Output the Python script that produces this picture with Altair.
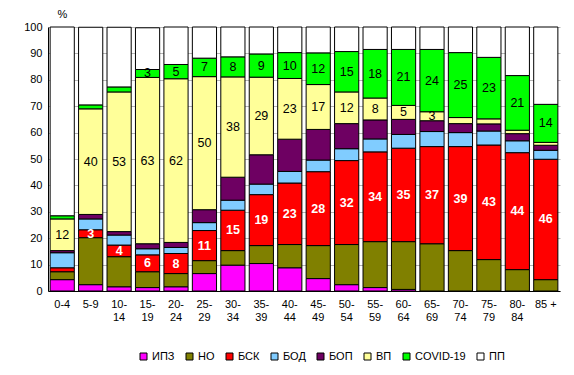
import altair as alt
import pandas as pd

ages = ["0-4", "5-9", "10-14", "15-19", "20-24", "25-29", "30-34", "35-39", "40-44",
        "45-49", "50-54", "55-59", "60-64", "65-69", "70-74", "75-79", "80-84", "85 +"]

series = ["ИПЗ", "НО", "БСК", "БОД", "БОП", "ВП", "COVID-19", "ПП"]
colors = ["#FF00FF", "#808000", "#FF0000", "#80CCFF", "#6E0062", "#FFFF99", "#00FF00", "#FFFFFF"]

ipz = [4.3, 2.4, 1.6, 1.3, 1.6, 6.6, 9.8, 10.4, 8.8, 4.7, 2.4, 1.3, 0.6, 0, 0, 0, 0, 0]
no = [3.0, 17.8, 11.4, 6.0, 5.0, 4.9, 5.5, 6.8, 8.8, 12.5, 15.2, 17.4, 18.1, 17.9, 15.3, 11.9, 8.1, 4.3]
bsk = [1.5, 3.0, 4.4, 6.4, 7.6, 11.4, 15.3, 19.3, 23.3, 28.0, 31.8, 34.0, 35.4, 36.8, 39.4, 43.4, 44.3, 45.6]
bod = [5.7, 4.1, 3.8, 2.3, 2.3, 3.0, 3.8, 4.0, 4.4, 4.4, 4.5, 4.9, 5.2, 5.7, 5.3, 5.3, 4.5, 3.4]
bop = [0.8, 1.7, 1.3, 1.9, 1.9, 4.9, 8.7, 11.1, 12.2, 11.6, 9.5, 7.2, 5.7, 4.1, 3.4, 2.7, 2.7, 1.9]
vp = [12.0, 40.0, 52.9, 63.0, 62.0, 50.4, 38.0, 29.4, 23.0, 17.0, 12.0, 8.3, 5.3, 3.4, 2.3, 1.9, 1.3, 1.1]
covid = [1.2, 1.5, 1.9, 3.0, 5.4, 7.0, 7.6, 8.8, 9.8, 12.0, 15.3, 18.4, 21.2, 23.6, 24.6, 23.3, 20.7, 14.4]
pp = [71.5, 29.4, 22.6, 15.8, 14.2, 11.8, 11.3, 10.2, 9.7, 9.8, 9.3, 8.5, 8.5, 8.5, 9.7, 11.5, 18.4, 29.3]

values = [ipz, no, bsk, bod, bop, vp, covid, pp]
y_ticks = [0, 10, 20, 30, 40, 50, 60, 70, 80, 90, 100]

rows = []
for si, (s, vals) in enumerate(zip(series, values)):
    for a, v in zip(ages, vals):
        rows.append({"age": a, "series": s, "ord": si, "value": v})
df = pd.DataFrame(rows)

FONT = "Liberation Sans"

x_axis = alt.Axis(title=None, labelAngle=0, ticks=False, labelPadding=7,
                  labelFontSize=11, labelFont=FONT, labelColor="black",
                  domainColor="black", labelLineHeight=13,
                  labelExpr="indexof(datum.label,'-')>=2 ? [substring(datum.label,0,indexof(datum.label,'-')+1), substring(datum.label,indexof(datum.label,'-')+1)] : datum.label")
x_scale = alt.Scale(paddingInner=0.15, paddingOuter=0.075)

y_axis = alt.Axis(values=y_ticks, labelOverlap=False, tickCount=11, title="%", titleAngle=0,
                  titleX=14, titleY=-13, titleAlign="center", titleBaseline="middle",
                  titleFont=FONT, titleFontSize=11, titleFontWeight="normal",
                  titleColor="black",
                  ticks=False, labelPadding=6, labelFontSize=11, labelFont=FONT,
                  labelColor="black", domainColor="black",
                  gridColor="#B4B4B4", gridWidth=1)
y_scale = alt.Scale(domain=[0, 100], nice=False)

bars = alt.Chart(df).mark_bar(stroke="black", strokeWidth=1).encode(
    x=alt.X("age:N", sort=ages, scale=x_scale, axis=x_axis),
    y=alt.Y("value:Q", stack="zero", scale=y_scale, axis=y_axis),
    color=alt.Color("series:N", scale=alt.Scale(domain=series, range=colors),
                    legend=alt.Legend(title=None, orient="none", direction="horizontal",
                                      legendX=90, legendY=324, padding=0,
                                      symbolType="square", symbolSize=49,
                                      symbolStrokeColor="black", symbolStrokeWidth=1,
                                      labelFont=FONT, labelFontSize=11, labelColor="black",
                                      labelOffset=3, columnPadding=9)),
    order=alt.Order("ord:Q", sort="ascending"),
)

base_text = alt.Chart(df).transform_stack(
    stack="value", groupby=["age"], sort=[alt.SortField("ord", order="ascending")],
    as_=["v0", "v1"]
).transform_calculate(
    mid="(datum.v0 + datum.v1) / 2"
).transform_filter(
    "datum.value >= 2.5"
)

text_bsk = base_text.transform_filter("datum.series == 'БСК'").mark_text(
    font=FONT, fontSize=12.5, fontWeight="bold", color="white", baseline="middle"
).encode(
    x=alt.X("age:N", sort=ages, scale=x_scale, axis=x_axis),
    y=alt.Y("mid:Q", scale=y_scale, axis=y_axis),
    text=alt.Text("value:Q", format=".0f"),
)

text_other = base_text.transform_filter("datum.series == 'ВП' || datum.series == 'COVID-19'").mark_text(
    font=FONT, fontSize=12.5, color="black", baseline="middle"
).encode(
    x=alt.X("age:N", sort=ages, scale=x_scale, axis=x_axis),
    y=alt.Y("mid:Q", scale=y_scale, axis=y_axis),
    text=alt.Text("value:Q", format=".0f"),
)

chart = alt.layer(bars, text_bsk, text_other).properties(
    width=512, height=264,
    autosize=alt.AutoSizeParams(type="none"),
    padding={"left": 48, "top": 27, "right": 14, "bottom": 84},
    background="white",
).configure_view(stroke=None)

chart.save("out.html", embed_options={"renderer": "svg", "actions": False})
